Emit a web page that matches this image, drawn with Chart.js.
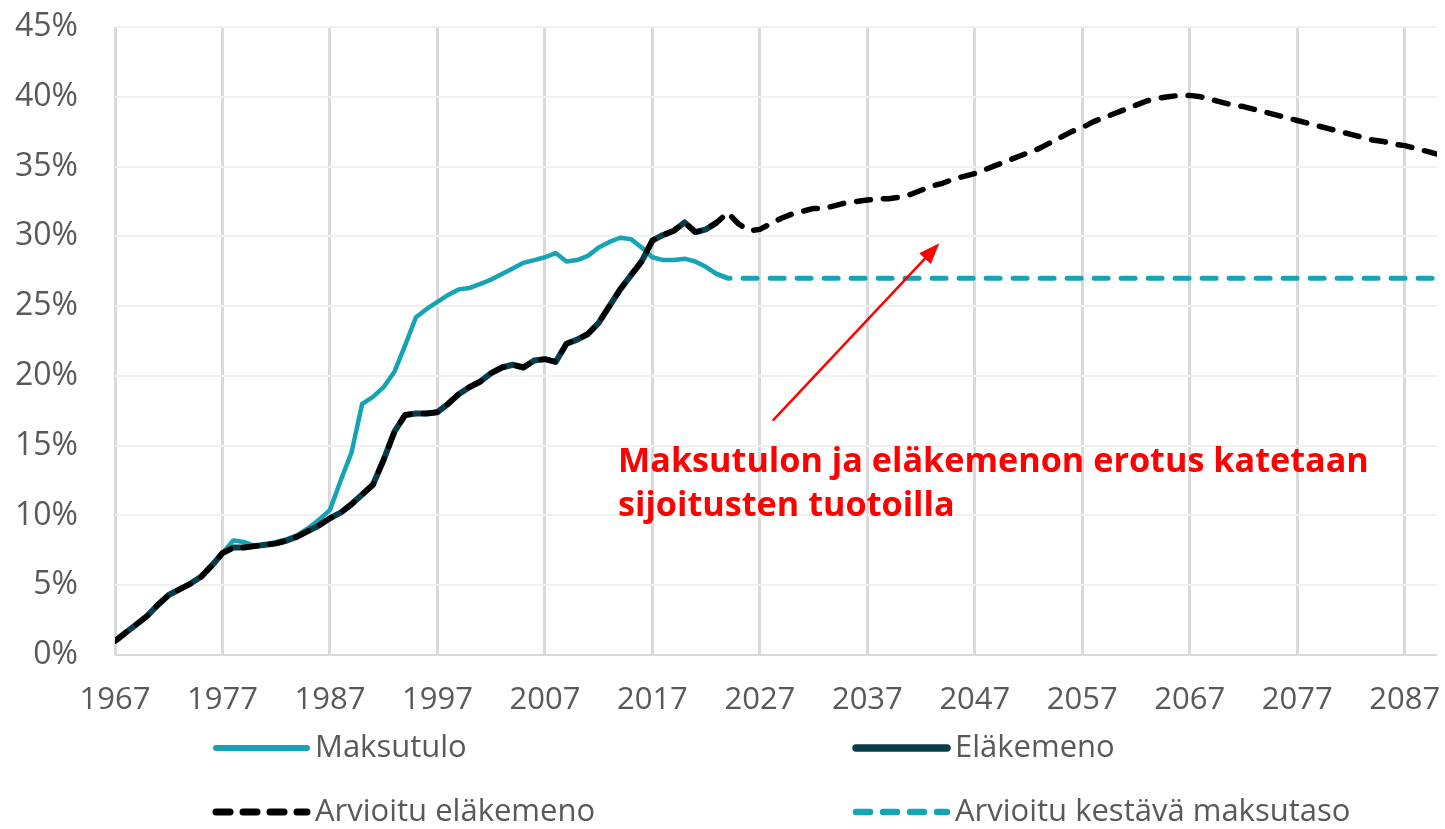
<!DOCTYPE html>
<html>
<head>
<meta charset="utf-8">
<script src="https://cdn.jsdelivr.net/npm/chart.js@4.4.1/dist/chart.umd.min.js"></script>
<style>
  html, body { margin: 0; padding: 0; background: #fff; }
  #wrap { width: 1445px; height: 829px; position: relative; }
</style>
</head>
<body>
<div id="wrap"><canvas id="myChart"></canvas></div>
<script>
// vuodet
const historiaVuodet = [];
for (let v = 1967; v <= 2023; v++) historiaVuodet.push(v);
const ennusteVuodet = [];
for (let v = 2024; v <= 2090; v++) ennusteVuodet.push(v);
const xTicks = [1967, 1977, 1987, 1997, 2007, 2017, 2027, 2037, 2047, 2057, 2067, 2077, 2087];

// % palkkasummasta, 1967-2023
const maksutulo = [1.0, 1.6, 2.2, 2.8, 3.6, 4.3, 4.7, 5.1, 5.6, 6.4, 7.3, 8.2, 8.1, 7.8, 7.9, 8.1, 8.3, 8.6, 9.1, 9.7,
  10.4, 12.5, 14.5, 18.0, 18.5, 19.2, 20.3, 22.2, 24.2, 24.8, 25.3, 25.8, 26.2, 26.3, 26.6, 26.9, 27.3, 27.7, 28.1, 28.3,
  28.5, 28.8, 28.2, 28.3, 28.6, 29.2, 29.6, 29.9, 29.8, 29.2, 28.5, 28.3, 28.3, 28.4, 28.2, 27.8, 27.3];
const elakemeno = [1.0, 1.6, 2.2, 2.8, 3.6, 4.3, 4.7, 5.1, 5.6, 6.4, 7.3, 7.7, 7.7, 7.8, 7.9, 8.0, 8.2, 8.5, 8.9, 9.3,
  9.8, 10.2, 10.8, 11.5, 12.2, 14.0, 16.0, 17.2, 17.3, 17.3, 17.4, 18.0, 18.7, 19.2, 19.6, 20.2, 20.6, 20.8, 20.6, 21.1,
  21.2, 21.0, 22.3, 22.6, 23.0, 23.8, 25.0, 26.2, 27.2, 28.2, 29.7, 30.1, 30.4, 31.0, 30.3, 30.5, 31.0];
// ennuste 2024-2090
const ennusteElakemeno = [31.7, 30.9, 30.4, 30.5, 30.9, 31.3, 31.6, 31.8, 32.0, 32.0, 32.2, 32.4, 32.5, 32.6, 32.7, 32.7,
  32.8, 33.0, 33.3, 33.6, 33.8, 34.1, 34.3, 34.5, 34.8, 35.1, 35.4, 35.7, 36.0, 36.3, 36.7, 37.1, 37.5, 37.8, 38.2, 38.5,
  38.8, 39.1, 39.4, 39.7, 39.9, 40.0, 40.1, 40.1, 40.0, 39.8, 39.6, 39.4, 39.3, 39.1, 38.9, 38.7, 38.5, 38.3, 38.1, 37.9,
  37.7, 37.5, 37.3, 37.1, 36.9, 36.8, 36.6, 36.5, 36.3, 36.1, 35.9];
const kestavaVuodet = [2023, 2024, 2090];
const kestavaMaksutaso = [27.3, 27.0, 27.0];

const pisteet = (xs, ys) => ys.map((y, i) => ({ x: xs[i], y: y }));

const TEAL = '#14a4b5';
const TUMMA = '#083d4b';
const HARMAA = '#595959';
const FONTTI = '"Open Sans", "Noto Sans", sans-serif';

const legendaPlugin = {
  id: 'legenda',
  afterDraw(chart) {
    const ctx = chart.ctx;
    const ds = chart.data.datasets;
    const paikat = [[213, 748], [853, 748], [213, 812], [853, 812]];
    ctx.save();
    ctx.font = '31px ' + FONTTI;
    ctx.textBaseline = 'middle';
    ds.forEach((d, i) => {
      const [x, y] = paikat[i];
      ctx.strokeStyle = d.borderColor;
      ctx.lineWidth = d.borderWidth + 1.5;
      ctx.lineCap = 'round';
      ctx.setLineDash(d.borderDash || []);
      ctx.beginPath();
      ctx.moveTo(x + 3, y);
      ctx.lineTo(x + 94, y);
      ctx.stroke();
      ctx.setLineDash([]);
      ctx.fillStyle = HARMAA;
      ctx.fillText(d.label, x + 102, y);
    });
    ctx.restore();
  }
};

const huomautusPlugin = {
  id: 'huomautus',
  afterDatasetsDraw(chart) {
    const ctx = chart.ctx;
    const xs = chart.scales.x, ys = chart.scales.y;
    const x1 = xs.getPixelForValue(2028.2), y1 = ys.getPixelForValue(16.8);
    const x2 = xs.getPixelForValue(2043.7), y2 = ys.getPixelForValue(29.5);
    const kulma = Math.atan2(y2 - y1, x2 - x1);
    ctx.save();
    ctx.strokeStyle = '#ff0000';
    ctx.fillStyle = '#ff0000';
    ctx.lineWidth = 2.5;
    ctx.beginPath();
    ctx.moveTo(x1, y1);
    ctx.lineTo(x2 - 16 * Math.cos(kulma), y2 - 16 * Math.sin(kulma));
    ctx.stroke();
    ctx.beginPath();
    ctx.moveTo(x2, y2);
    ctx.lineTo(x2 - 21 * Math.cos(kulma) + 8 * Math.sin(kulma), y2 - 21 * Math.sin(kulma) - 8 * Math.cos(kulma));
    ctx.lineTo(x2 - 21 * Math.cos(kulma) - 8 * Math.sin(kulma), y2 - 21 * Math.sin(kulma) + 8 * Math.cos(kulma));
    ctx.closePath();
    ctx.fill();

    const rivit = ['Maksutulon ja eläkemenon erotus katetaan', 'sijoitusten tuotoilla'];
    ctx.font = 'bold 31px ' + FONTTI;
    const w = ctx.measureText(rivit[0]).width;
    const koko = 31 * 750 / w;
    ctx.font = 'bold ' + koko.toFixed(1) + 'px ' + FONTTI;
    ctx.textBaseline = 'alphabetic';
    const tx = xs.getPixelForValue(2013.8);
    ctx.fillText(rivit[0], tx, ys.getPixelForValue(13.1));
    ctx.fillText(rivit[1], tx, ys.getPixelForValue(9.95));
    ctx.restore();
  }
};

const ctx = document.getElementById('myChart');

new Chart(ctx, {
  type: 'line',
  data: {
    datasets: [{
      label: 'Maksutulo',
      data: pisteet(historiaVuodet, maksutulo),
      borderColor: TEAL,
      borderWidth: 4.5,
      order: 4
    }, {
      label: 'Eläkemeno',
      data: pisteet(historiaVuodet, elakemeno),
      borderColor: TUMMA,
      borderWidth: 6,
      order: 3
    }, {
      label: 'Arvioitu eläkemeno',
      data: pisteet(historiaVuodet, elakemeno).concat(pisteet(ennusteVuodet, ennusteElakemeno)),
      borderColor: '#000000',
      borderWidth: 5.5,
      borderDash: [14, 13],
      borderCapStyle: 'round',
      order: 1
    }, {
      label: 'Arvioitu kestävä maksutaso',
      data: pisteet(kestavaVuodet, kestavaMaksutaso),
      borderColor: TEAL,
      borderWidth: 5,
      borderDash: [14, 13],
      borderCapStyle: 'round',
      order: 2
    }]
  },
  options: {
    responsive: true,
    maintainAspectRatio: false,
    animation: false,
    elements: {
      point: { radius: 0, hoverRadius: 0 },
      line: { tension: 0, borderJoinStyle: 'round', fill: false }
    },
    layout: { padding: { left: 0, right: 8, top: 27, bottom: 104 } },
    plugins: {
      legend: { display: false },
      tooltip: { enabled: false }
    },
    scales: {
      x: {
        type: 'linear',
        min: 1967,
        max: 2090,
        afterBuildTicks: s => { s.ticks = xTicks.map(v => ({ value: v })); },
        afterFit: s => { s.height = 70; s.paddingLeft = 0; s.paddingRight = 0; },
        ticks: {
          autoSkip: false,
          maxRotation: 0,
          padding: 27,
          color: HARMAA,
          font: { family: FONTTI, size: 31 },
          callback: v => String(v)
        },
        grid: { color: '#d9d9d9', lineWidth: 3, drawTicks: false },
        border: { display: false }
      },
      y: {
        min: 0,
        max: 45,
        afterFit: s => { s.width = 115; s.paddingTop = 0; s.paddingBottom = 0; },
        ticks: {
          stepSize: 5,
          padding: 37,
          color: HARMAA,
          font: { family: FONTTI, size: 32 },
          callback: v => v + '%'
        },
        grid: {
          color: c => c.tick && c.tick.value === 0 ? '#d9d9d9' : '#f0f0f0',
          lineWidth: 2,
          drawTicks: false
        },
        border: { display: false }
      }
    }
  },
  plugins: [huomautusPlugin, legendaPlugin]
});
</script>
</body>
</html>
